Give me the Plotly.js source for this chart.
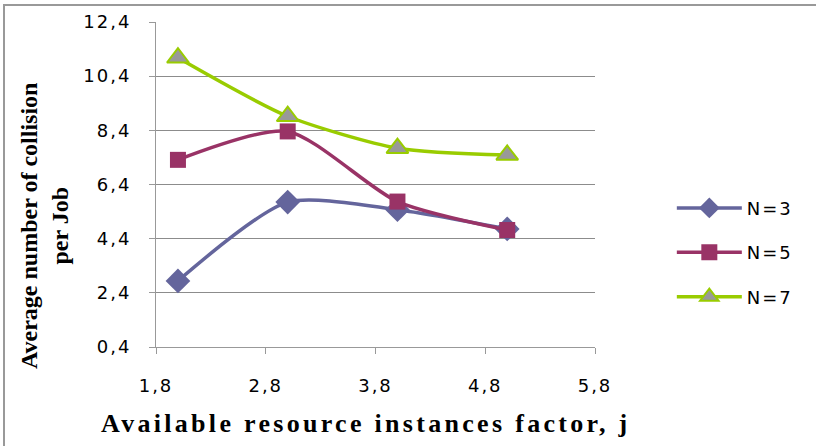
<!DOCTYPE html>
<html><head><meta charset="utf-8">
<script src="https://cdn.plot.ly/plotly-3.0.1.min.js"></script>
<style>
html,body{margin:0;padding:0;background:#fff;}
#wrap{position:relative;width:816px;height:446px;overflow:hidden;}
#chart{width:816px;height:446px;}
#frame{position:absolute;left:3px;top:4px;width:830px;height:460px;border-top:2px solid #999;border-left:2px solid #999;pointer-events:none;}
</style></head>
<body><div id="wrap"><div id="chart"></div><div id="frame"></div></div>
<script>
var xValues = [2, 3, 4, 5];
var n3 = [2.84, 5.75, 5.47, 4.76];
var n5 = [7.31, 8.36, 5.77, 4.72];
var n7 = [11.08, 8.92, 7.74, 7.49];
var seriesNames = ['N=3', 'N=5', 'N=7'];
var yTicks = [0.4, 2.4, 4.4, 6.4, 8.4, 10.4, 12.4];
var xTicks = [1.8, 2.8, 3.8, 4.8, 5.8];

function spaced(s, px){ return '<span style="letter-spacing:' + px + 'px">' + s + '</span>'; }
function fmt(v){ return v.toFixed(1).replace('.', ','); }

var traces = [
 {x:xValues, y:n3, name:spaced(seriesNames[0],2), mode:'lines+markers', legendgroup:'a',
  line:{color:'#64659C', width:3.5, shape:'spline', smoothing:0.7},
  marker:{symbol:'diamond', size:19, color:'#64659C'}},
 {x:xValues, y:n5, name:spaced(seriesNames[1],2), mode:'lines+markers', legendgroup:'b',
  line:{color:'#993366', width:3.5, shape:'spline', smoothing:0.7},
  marker:{symbol:'square', size:16, color:'#993366'}},
 {x:xValues, y:n7, name:spaced(seriesNames[2],2), mode:'lines+markers', legendgroup:'c',
  line:{color:'#99CC00', width:3.5, shape:'spline', smoothing:0.7},
  marker:{symbol:'triangle-up', size:19, color:'#999999', line:{color:'#99CC00', width:2}}}
];

var layout = {
 width:816, height:446,
 margin:{l:156, r:221, t:22, b:99, autoexpand:false},
 paper_bgcolor:'#fff', plot_bgcolor:'#fff',
 showlegend:true,
 font:{family:'DejaVu Sans, Verdana, sans-serif', size:18, color:'#000'},
 xaxis:{range:[1.8,5.8], tickvals:xTicks, ticktext:xTicks.map(function(v){return spaced(fmt(v),2);}),
   showgrid:false, zeroline:false,
   showline:true, linecolor:'#999', linewidth:1, ticks:'outside', ticklen:6, tickcolor:'#999',
   ticklabelstandoff:16, tickfont:{size:18}},
 yaxis:{range:[0.4,12.4], tickvals:yTicks, ticktext:yTicks.map(function(v){return spaced(fmt(v),2);}),
   showgrid:true, gridcolor:'#8c8c8c', gridwidth:1,
   zeroline:false, showline:true, linecolor:'#999', linewidth:1, ticks:'outside', ticklen:6, tickcolor:'#999',
   ticklabelstandoff:14, tickfont:{size:18}},
 legend:{x:1.175, y:0.29, xanchor:'left', yanchor:'middle', traceorder:'grouped', tracegroupgap:18,
   itemwidth:65, font:{size:18, family:'DejaVu Sans, Verdana, sans-serif'}, bgcolor:'rgba(0,0,0,0)'},
 annotations:[
  {xref:'paper', yref:'paper', x:(366-156)/439, y:(347-423)/325, xanchor:'center', yanchor:'middle',
   text:'<b>' + spaced('Available resource instances factor, j', 3.3) + '</b>', showarrow:false,
   font:{family:'Liberation Serif, Times New Roman, serif', size:26, color:'#000'}},
  {xref:'paper', yref:'paper', x:(44-156)/439, y:(347-226)/325, xanchor:'center', yanchor:'middle',
   text:'<b>Average number of collision<br>per Job</b>', textangle:-90, showarrow:false,
   font:{family:'Liberation Serif, Times New Roman, serif', size:24, color:'#000'}}
 ]
};
Plotly.newPlot('chart', traces, layout, {displayModeBar:false, staticPlot:true});
</script></body></html>
